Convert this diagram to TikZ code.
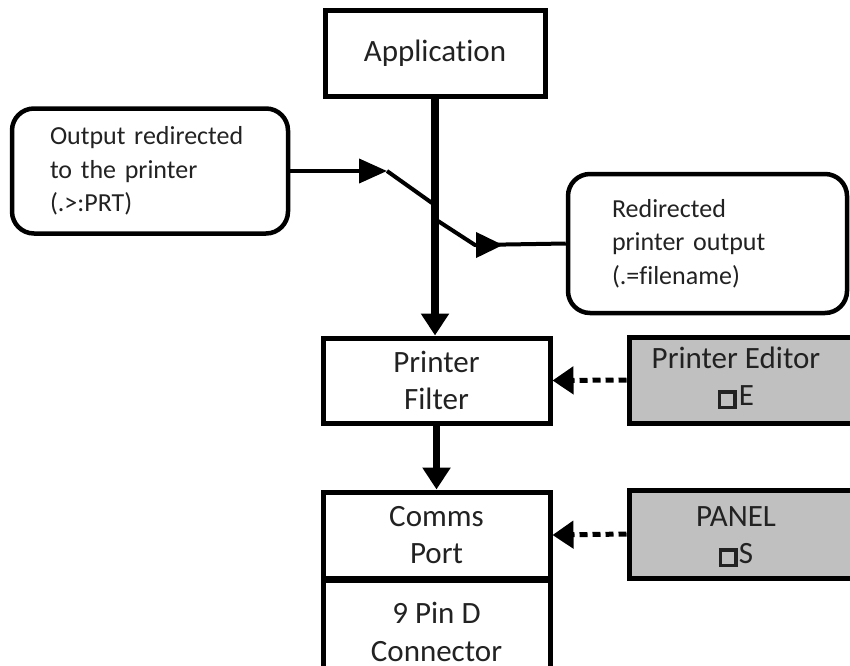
\documentclass[tikz,border=0pt]{standalone}
\usepackage{fontspec}
\setmainfont{Carlito}[Ligatures=NoCommon]
\usetikzlibrary{arrows.meta}
\definecolor{boxgray}{RGB}{192,192,192}
\definecolor{txt}{RGB}{34,34,34}
\newcommand{\sqsym}{\raisebox{0pt}{\setlength{\fboxsep}{0pt}\setlength{\fboxrule}{3.5pt}\fbox{\rule{0pt}{12pt}\rule{12pt}{0pt}}}}
\begin{document}
\begin{tikzpicture}[x=1pt,y=-1pt,
  box/.style={draw, line width=5pt, fill=white, inner sep=0pt, text=txt, align=center,
    font=\fontsize{31}{37.5}\selectfont},
  rbox/.style={draw, line width=4.5pt, rounded corners=22pt, inner sep=0pt, text=txt, align=left,
    font=\fontsize{26}{33.5}\selectfont},
  graybox/.style={draw, line width=5pt, fill=boxgray, inner sep=0pt},
  graytext/.style={text=txt, align=center, inner sep=0pt, font=\fontsize{31}{37.5}\selectfont},
  mainln/.style={line width=7.5pt},
  swln/.style={line width=4pt, line join=round},
  dashln/.style={line width=5pt, dash pattern=on 8pt off 5pt},
  bigtip/.style={-{Triangle[length=22pt,width=27pt]}},
  sidetip/.style={-{Triangle[length=21pt,width=27pt]}}
]
\clip (0,0) rectangle (850,665);
\fill[white] (0,0) rectangle (850,665);

% boxes
\node[box, minimum width=220pt, minimum height=86pt] (App) at (435,53) {Application};
\node[rbox, minimum width=276pt, minimum height=125pt, text width=200pt] (L) at (150,171)
  {Output redirected\\to the printer\\(.>:PRT)};
\node[rbox, minimum width=279pt, minimum height=139pt, text width=191pt] (R) at (707.5,243.5)
  {Redirected\\printer output\\(.=filename)};
\node[box, minimum width=227pt, minimum height=85pt] (PF) at (436.5,380.5) {Printer\\Filter};
\node[box, minimum width=227pt, minimum height=86pt] (CP) at (436.5,535) {Comms\\Port};
\node[box, minimum width=227pt, minimum height=104pt] (CN) at (436.5,632) {9 Pin D\\Connector};

\node[graybox, minimum width=241pt, minimum height=86pt] (PE) at (749.5,380) {};
\node[graytext] (PEt) at (736,378) {Printer Editor\\\sqsym\hspace{2pt}E};
\node[graybox, minimum width=241pt, minimum height=88pt] (PN) at (749.5,534) {};
\node[graytext] (PNt) at (736,537) {PANEL\\\sqsym\hspace{1pt}S};

% switch coordinates
\coordinate (a1) at (387,171);
\coordinate (a2) at (432,203);
\coordinate (b1) at (438,221);
\coordinate (b2) at (475,245);
\coordinate (b3) at (503,245);

% main flow
\draw[mainln, bigtip] (App.south) -- (App.south |- PF.north);
\draw[mainln, bigtip] (PF.south) -- (CP.north);

% switch
\draw[swln, -{Triangle[length=28pt,width=24pt]}] (L.east) -- (a1);
\draw[swln] (a1) -- (a2);
\draw[swln] (b1) -- (b2) -- (R.west);
\draw[swln, -{Triangle[length=27pt,width=25pt]}] (b2) -- (b3);

% dashed side arrows
\draw[dashln, sidetip] (PE.west) -- (PF.east);
\draw[dashln, sidetip] (PN.west) -- (CP.east);
\end{tikzpicture}
\end{document}
